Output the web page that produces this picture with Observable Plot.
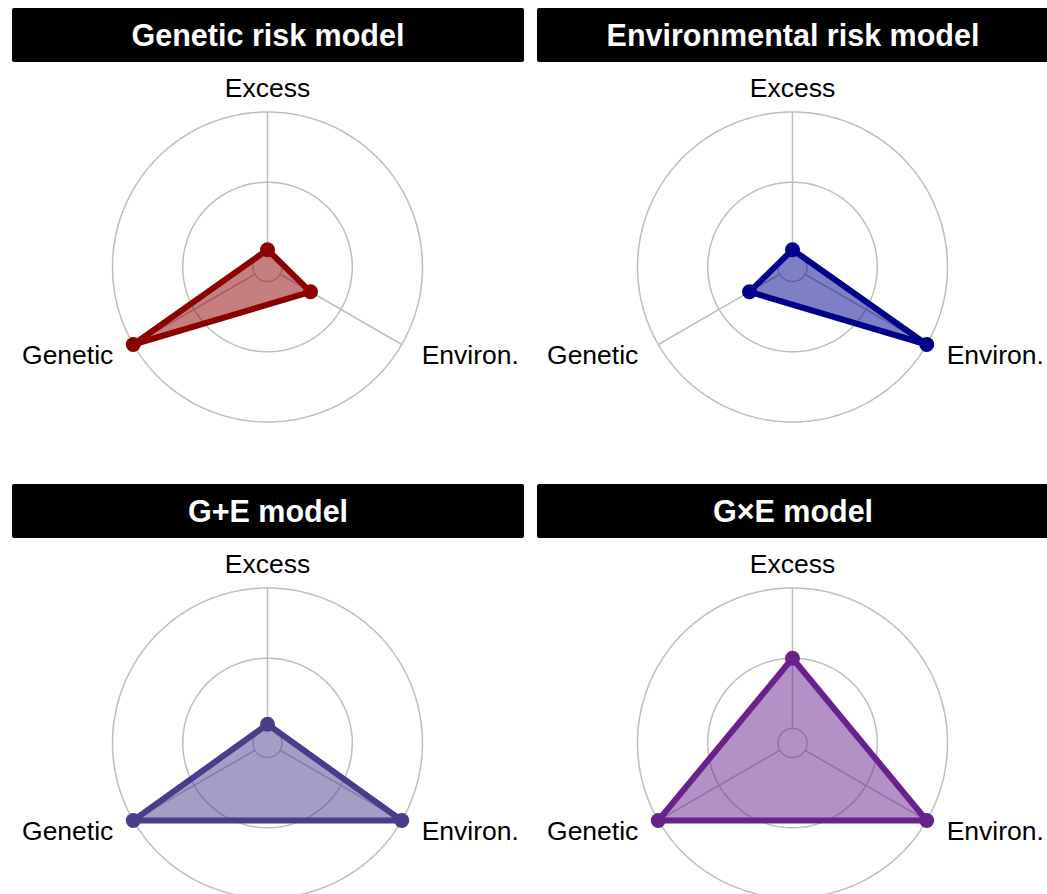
<!DOCTYPE html>
<html>
<head>
<meta charset="utf-8">
<script src="https://cdn.jsdelivr.net/npm/d3@7"></script>
<script src="https://cdn.jsdelivr.net/npm/@observablehq/plot@0.6"></script>
<style>
  html, body { margin: 0; padding: 0; background: #fff; overflow: hidden; }
  #root { position: relative; width: 1047px; height: 894px; overflow: hidden; font-family: "Liberation Sans", Arial, Helvetica, sans-serif; }
  .panel { position: absolute; width: 525px; height: 476px; }
  .head { position: absolute; left: 12px; top: 8px; width: 512px; height: 54px; background: #000; color: #fff;
          border-radius: 2px; font-weight: bold; font-size: 30.5px; display: flex; align-items: center; justify-content: center; }
</style>
</head>
<body>
<div id="root"></div>
<script>
// ---- data ----
const axisNames = ["Excess", "Environ.", "Genetic"];
const models = ["Genetic risk model", "Environmental risk model", "G+E model", "G×E model"];
const excessValues = [0.02, 0.02, 0.03, 0.5];
const environValues = [0.25, 1, 1, 1];
const geneticValues = [1, 0.25, 1, 1];
const modelColors = ["#8B0000", "#00008B", "#483D8B", "#68228B"];
const gridLevels = [0, 0.5, 1];

// ---- layout ----
const W = 525, H = 414, CX = 267, CY = 204.5, R = 155, R0 = 14.5, RL = 178;
const axisAngle = i => (90 - i * 120) * Math.PI / 180;
const radial = v => (R0 + v * (R - R0)) / R;
const gridColor = "#BEBEBE";

const root = document.getElementById("root");

// grid circles and spokes (shared)
const ringPts = [];
for (const g of gridLevels) {
  for (let d = 0; d <= 360; d += 2) {
    const a = d * Math.PI / 180;
    ringPts.push({level: g, x: radial(g) * Math.cos(a), y: radial(g) * Math.sin(a)});
  }
}
const spokes = axisNames.map((name, i) => ({
  x1: radial(0) * Math.cos(axisAngle(i)), y1: radial(0) * Math.sin(axisAngle(i)),
  x2: radial(1) * Math.cos(axisAngle(i)), y2: radial(1) * Math.sin(axisAngle(i))
}));
const labels = axisNames.map((name, i) => ({
  name, x: (RL / R) * Math.cos(axisAngle(i)), y: (RL / R) * Math.sin(axisAngle(i))
}));

models.forEach((model, m) => {
  const col = m % 2, row = Math.floor(m / 2);
  const panel = document.createElement("div");
  panel.className = "panel";
  panel.style.left = (col * 525) + "px";
  panel.style.top = (row * 476) + "px";
  const head = document.createElement("div");
  head.className = "head";
  head.textContent = model;
  panel.appendChild(head);

  const vals = [excessValues[m], environValues[m], geneticValues[m]];
  const pts = axisNames.map((name, i) => ({
    axis: name, value: vals[i],
    x: radial(vals[i]) * Math.cos(axisAngle(i)),
    y: radial(vals[i]) * Math.sin(axisAngle(i))
  }));
  const color = modelColors[m];

  const chart = Plot.plot({
    width: W, height: H, margin: 0,
    x: {domain: [-CX / R, (W - CX) / R], axis: null},
    y: {domain: [-(H - CY) / R, CY / R], axis: null},
    style: {fontFamily: '"Liberation Sans", Arial, Helvetica, sans-serif', background: "transparent"},
    marks: [
      Plot.line(ringPts, {x: "x", y: "y", z: "level", stroke: gridColor, strokeWidth: 1.5}),
      Plot.link(spokes, {x1: "x1", y1: "y1", x2: "x2", y2: "y2", stroke: gridColor, strokeWidth: 1.5}),
      Plot.line(pts, {x: "x", y: "y", curve: "linear-closed", fill: color, fillOpacity: 0.5,
                      stroke: color, strokeWidth: 6, strokeLinejoin: "round"}),
      Plot.dot(pts, {x: "x", y: "y", r: 7.5, fill: color, stroke: "none"}),
      Plot.text(labels.filter(d => d.name === "Excess"), {x: "x", y: "y", text: "name", textAnchor: "middle", fontSize: 26.5, fill: "#000"}),
      Plot.text(labels.filter(d => d.name === "Environ."), {x: "x", y: "y", text: "name", textAnchor: "start", fontSize: 26.5, fill: "#000"}),
      Plot.text(labels.filter(d => d.name === "Genetic"), {x: "x", y: "y", text: "name", textAnchor: "end", fontSize: 26.5, fill: "#000"})
    ]
  });
  chart.style.position = "absolute";
  chart.style.left = "0px";
  chart.style.top = "62px";
  chart.style.overflow = "visible";
  panel.appendChild(chart);
  root.appendChild(panel);
});
</script>
</body>
</html>
